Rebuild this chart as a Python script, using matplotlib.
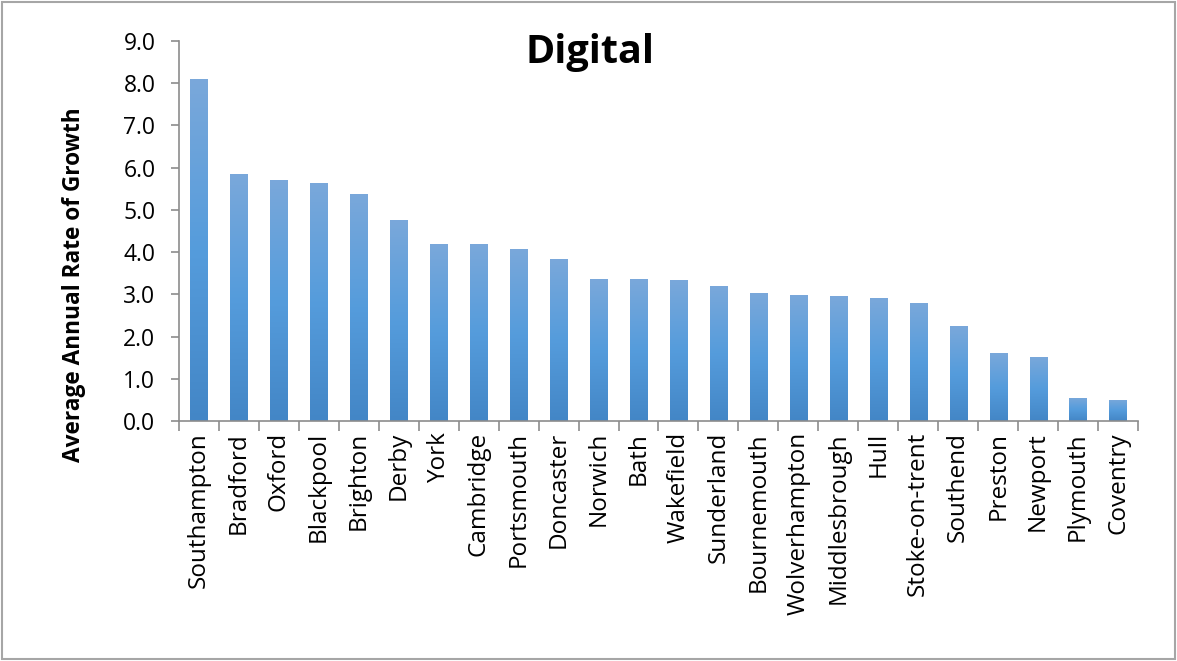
import numpy as np
import matplotlib.pyplot as plt
from matplotlib.colors import LinearSegmentedColormap
from matplotlib.patches import Rectangle

cities = ["Southampton", "Bradford", "Oxford", "Blackpool", "Brighton", "Derby",
          "York", "Cambridge", "Portsmouth", "Doncaster", "Norwich", "Bath",
          "Wakefield", "Sunderland", "Bournemouth", "Wolverhampton", "Middlesbrough",
          "Hull", "Stoke-on-trent", "Southend", "Preston", "Newport", "Plymouth",
          "Coventry"]
growth = [8.10, 5.85, 5.71, 5.64, 5.38, 4.76, 4.19, 4.19, 4.08, 3.84, 3.36, 3.36,
          3.34, 3.20, 3.03, 2.99, 2.96, 2.91, 2.80, 2.25, 1.61, 1.52, 0.55, 0.50]

plt.rcParams['font.family'] = ['Open Sans', 'DejaVu Sans']

fig = plt.figure(figsize=(11.77, 6.61), dpi=100)
ax = fig.add_axes([179 / 1177, 1 - 421 / 661, 959 / 1177, 380 / 661])

# vertical gradient: lighter top, darker base
cmap = LinearSegmentedColormap.from_list("bar", ["#4386c6", "#559cdc", "#7aa8da"])
grad = np.linspace(0, 1, 256).reshape(-1, 1)
width = 0.43
x = np.arange(len(cities))
bars = ax.bar(x, growth, width=width, color="none", edgecolor="none")
for b in bars:
    x0, h = b.get_x(), b.get_height()
    im = ax.imshow(grad, cmap=cmap, aspect="auto", origin="lower",
                   extent=[x0, x0 + width, 0, h], zorder=2)
    im.set_clip_path(b)

ax.set_xlim(-0.5, len(cities) - 0.5)
ax.set_ylim(0, 9)
ax.set_yticks(np.arange(0, 9.5, 1.0))
ax.set_yticklabels([f"{v:.1f}" for v in np.arange(0, 9.5, 1.0)])
ax.set_xticks(x)
ax.set_xticklabels(cities, rotation=90)
ax.set_xticks(np.arange(-0.5, len(cities), 1.0), minor=True)

for s in ["top", "right"]:
    ax.spines[s].set_visible(False)
for s in ["left", "bottom"]:
    ax.spines[s].set_color("#8c8c8c")
    ax.spines[s].set_linewidth(1.2)

ax.tick_params(axis="y", length=6, width=1.2, color="#8c8c8c", labelsize=16.5, pad=11)
ax.tick_params(axis="x", which="major", length=0, labelsize=17.5, pad=8)
ax.tick_params(axis="x", which="minor", length=7, width=1.2, color="#8c8c8c")

ax.set_ylabel("Average Annual Rate of Growth", fontsize=16.3, fontweight="bold")
ax.yaxis.set_label_coords(-0.0965, 0.358)
fig.text(590 / 1177, 1 - 52 / 661, "Digital", fontsize=28.5, fontweight="bold",
         ha="center", va="center")

# chart area border
fig.patches.append(Rectangle((2 / 1177, 2 / 661), 1 - 4 / 1177, 1 - 4 / 661,
                             transform=fig.transFigure, fill=False,
                             edgecolor="#a6a6a6", linewidth=1.5))

fig.savefig("out.png", dpi=100)
